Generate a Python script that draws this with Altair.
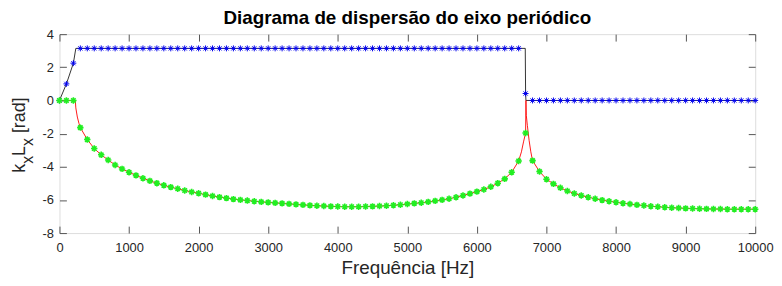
import altair as alt
import pandas as pd

# ---------------- data ----------------
freq_hz = list(range(0, 10001, 100))

real_part = [
    0.0, 1.0, 2.25,
    3.1416, 3.1416, 3.1416, 3.1416, 3.1416, 3.1416, 3.1416, 3.1416, 3.1416, 3.1416,
    3.1416, 3.1416, 3.1416, 3.1416, 3.1416, 3.1416, 3.1416, 3.1416, 3.1416, 3.1416,
    3.1416, 3.1416, 3.1416, 3.1416, 3.1416, 3.1416, 3.1416, 3.1416, 3.1416, 3.1416,
    3.1416, 3.1416, 3.1416, 3.1416, 3.1416, 3.1416, 3.1416, 3.1416, 3.1416, 3.1416,
    3.1416, 3.1416, 3.1416, 3.1416, 3.1416, 3.1416, 3.1416, 3.1416, 3.1416, 3.1416,
    3.1416, 3.1416, 3.1416, 3.1416, 3.1416, 3.1416, 3.1416, 3.1416, 3.1416, 3.1416,
    3.1416, 3.1416, 3.1416, 3.1416,
    0.42,
    0.0, 0.0, 0.0, 0.0, 0.0, 0.0, 0.0, 0.0, 0.0, 0.0,
    0.0, 0.0, 0.0, 0.0, 0.0, 0.0, 0.0, 0.0, 0.0, 0.0,
    0.0, 0.0, 0.0, 0.0, 0.0, 0.0, 0.0, 0.0, 0.0, 0.0,
    0.0, 0.0, 0.0,
]

imag_part = [
    0.0, 0.0, 0.0, -1.64, -2.36, -2.90, -3.28, -3.59, -3.89, -4.13,
    -4.33, -4.52, -4.69, -4.85, -4.99, -5.12, -5.23, -5.33, -5.43, -5.52,
    -5.60, -5.68, -5.76, -5.83, -5.89, -5.95, -6.00, -6.04, -6.08, -6.12,
    -6.15, -6.18, -6.21, -6.24, -6.27, -6.30, -6.33, -6.35, -6.37, -6.39,
    -6.40, -6.41, -6.41, -6.41, -6.40, -6.39, -6.37, -6.35, -6.32, -6.29,
    -6.25, -6.21, -6.17, -6.12, -6.06, -6.00, -5.93, -5.84, -5.73, -5.62,
    -5.50, -5.37, -5.21, -4.99, -4.73, -4.33, -3.65, -1.96, -3.63, -4.29,
    -4.75, -5.03, -5.27, -5.46, -5.61, -5.73, -5.84, -5.93, -6.01, -6.08,
    -6.14, -6.20, -6.25, -6.30, -6.34, -6.38, -6.41, -6.44, -6.47, -6.49,
    -6.51, -6.52, -6.53, -6.54, -6.55, -6.55, -6.56, -6.56, -6.56, -6.56,
    -6.56,
]

# extra points of the continuous curves near the band edges
real_edge_f = [235, 6695, 6705]
real_edge_v = [3.1416, 3.1416, 0.0]
imag_edge_f = [228, 235, 257, 280, 6640, 6670, 6705, 6710, 6725, 6750, 6775]
imag_edge_v = [0.0, -0.45, -1.0, -1.38, -3.1, -2.5, 0.0, -0.9, -1.5, -2.4, -3.1]

x_ticks = [0, 1000, 2000, 3000, 4000, 5000, 6000, 7000, 8000, 9000, 10000]
y_ticks = [-8, -6, -4, -2, 0, 2, 4]

title_text = "Diagrama de dispersão do eixo periódico"
x_title = "Frequência [Hz]"
y_label_parts = ["k", "x", "L", "x", "[rad]"]

# ---------------- tables ----------------
markers = pd.DataFrame({"f": freq_hz, "re": real_part, "im": imag_part})
line_re = pd.DataFrame({"f": freq_hz + real_edge_f, "v": real_part + real_edge_v}).sort_values("f")
line_im = pd.DataFrame({"f": freq_hz + imag_edge_f, "v": imag_part + imag_edge_v}).sort_values("f")

FONT = "Liberation Sans"
AX = "#555555"
TXT = "#262626"
W, H = 703, 201
TS = 7

xs = alt.Scale(domain=[0, 10000], nice=False, zero=False)
ys = alt.Scale(domain=[-8, 4], nice=False, zero=False)

LBL = "'' + datum.value"

ax_bottom = alt.Axis(orient="bottom", values=x_ticks, labelExpr=LBL, offset=-TS, domain=False,
                     tickSize=TS, tickColor=AX, tickWidth=1, labelFont=FONT, labelFontSize=13,
                     labelColor=TXT, labelPadding=9, labelFlush=False, labelOverlap=False,
                     labelBound=False, grid=False, title=x_title, titleFont=FONT,
                     titleFontSize=19, titleFontWeight="normal", titleColor=TXT,
                     titleBaseline="alphabetic", titleY=41 + TS)
ax_left = alt.Axis(orient="left", values=y_ticks, labelExpr=LBL, offset=-TS, domain=False,
                   tickSize=TS, tickColor=AX, tickWidth=1, labelFont=FONT, labelFontSize=13,
                   labelColor=TXT, labelPadding=6, labelFlush=False, labelOverlap=False,
                   grid=False, title=None)
ax_top = alt.Axis(orient="top", values=x_ticks, offset=-TS, domain=False, tickSize=TS,
                  tickColor=AX, tickWidth=1, labels=False, grid=False, title=None)
ax_right = alt.Axis(orient="right", values=y_ticks, offset=-TS, domain=False, tickSize=TS,
                    tickColor=AX, tickWidth=1, labels=False, grid=False, title=None)

ASTER = "M-1,0L1,0M0,-1L0,1M-0.7,-0.7L0.7,0.7M-0.7,0.7L0.7,-0.7"

l_re = alt.Chart(line_re).mark_line(color="#000000", strokeWidth=0.8).encode(
    x=alt.X("f:Q", scale=xs, axis=ax_bottom),
    y=alt.Y("v:Q", scale=ys, axis=ax_left),
)
l_im = alt.Chart(line_im).mark_line(color="#ff0000", strokeWidth=0.9).encode(
    x=alt.X("f:Q", scale=xs, axis=ax_top),
    y=alt.Y("v:Q", scale=ys, axis=ax_right),
)
p_re = alt.Chart(markers).mark_point(shape=ASTER, size=36, filled=False, color="#0000ee",
                                     strokeWidth=1.0, opacity=1).encode(
    x=alt.X("f:Q", scale=xs, axis=None),
    y=alt.Y("re:Q", scale=ys, axis=None),
)
p_im = alt.Chart(markers).mark_point(shape=ASTER, size=42, filled=False, color="#22ee22",
                                     strokeWidth=1.6, opacity=1).encode(
    x=alt.X("f:Q", scale=xs, axis=None),
    y=alt.Y("im:Q", scale=ys, axis=None),
)

one = pd.DataFrame({"a": [0]})

title_layer = alt.Chart(one).mark_text(text=title_text, font=FONT, fontSize=19,
                                       fontWeight="bold", color="#000000", align="center",
                                       baseline="alphabetic").encode(
    x=alt.value(W / 2), y=alt.value(-10)
)

lab_x, lab_y = -35, 140
sizes = [18, 16, 18, 16, 18]
offs = [0, 9, 17, 27, 40]
shifts = [0, 8, 0, 8, 0]
ylab_layers = []
for txt, sz, dx, dy in zip(y_label_parts, sizes, offs, shifts):
    ylab_layers.append(
        alt.Chart(one).mark_text(text=txt, font=FONT, fontSize=sz, color=TXT, angle=270,
                                 align="left", baseline="alphabetic", dx=dx, dy=dy).encode(
            x=alt.value(lab_x), y=alt.value(lab_y)
        )
    )

chart = alt.layer(l_re, l_im, p_re, p_im, title_layer, *ylab_layers).resolve_scale(
    x="independent", y="independent"
).resolve_axis(x="independent", y="independent").properties(
    width=W, height=H,
    autosize=alt.AutoSizeParams(type="none"),
    padding={"left": 52, "top": 25, "right": 19, "bottom": 46},
).configure_view(stroke=AX, strokeWidth=1).configure(background="white")

chart.save("out.html", embed_options={"renderer": "svg", "actions": False})
